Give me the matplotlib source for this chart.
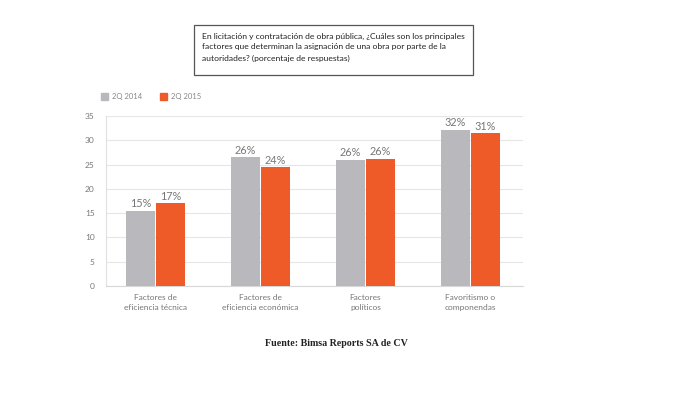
import matplotlib
matplotlib.use("Agg")
import matplotlib.pyplot as plt
from matplotlib.patches import Rectangle
import numpy as np

categorias = ["Factores de\neficiencia técnica", "Factores de\neficiencia económica",
              "Factores\npolíticos", "Favoritismo o\ncomponendas"]
valores_2014 = [15.5, 26.5, 26.0, 32.2]
valores_2015 = [17.0, 24.5, 26.2, 31.5]
etiquetas_2014 = ["15%", "26%", "26%", "32%"]
etiquetas_2015 = ["17%", "24%", "26%", "31%"]
series = ["2Q 2014", "2Q 2015"]

gris = "#b9b9bd"
naranja = "#ee5a28"

plt.rcParams["font.family"] = ["Lato", "DejaVu Sans"]

fig = plt.figure(figsize=(7, 3.95), dpi=100)
W, H = 700, 395
ax = fig.add_axes([106 / W, 1 - 286 / H, (523 - 106) / W, (286 - 116) / H])

x = np.arange(len(categorias))
ancho = 0.276
b1 = ax.bar(x - ancho / 2 - 0.005, valores_2014, ancho, color=gris, zorder=3)
b2 = ax.bar(x + ancho / 2 + 0.005, valores_2015, ancho, color=naranja, zorder=3)

for barras, etiquetas in [(b1, etiquetas_2014), (b2, etiquetas_2015)]:
    for b, et in zip(barras, etiquetas):
        ax.text(b.get_x() + b.get_width() / 2, b.get_height() + 0.3, et,
                ha="center", va="bottom", fontsize=7.8, color="#777777")

ax.set_xlim(-0.47, 3.5)
ax.set_ylim(0, 35)
ax.set_yticks(range(0, 36, 5))
ax.grid(axis="y", color="#e6e6e6", lw=0.8, zorder=0)
ax.set_xticks(x)
ax.set_xticklabels(categorias, fontsize=5.5, color="#777777", linespacing=1.5)
ax.tick_params(axis="both", length=0, labelsize=6, colors="#777777")
ax.tick_params(axis="y", pad=8)
ax.tick_params(axis="x", pad=6)
for s in ["top", "right"]:
    ax.spines[s].set_visible(False)
ax.spines["left"].set_color("#e0e0e0")
ax.spines["bottom"].set_color("#d8d8d8")

# leyenda
for i, (nombre, c) in enumerate(zip(series, [gris, naranja])):
    x0 = 101 + i * 59
    fig.patches.append(Rectangle((x0 / W, 1 - 100 / H), 7 / W, 7 / H,
                                 transform=fig.transFigure, color=c))
    fig.text((x0 + 11) / W, 1 - 96.5 / H, nombre, fontsize=5.5,
             color="#888888", va="center")

# caja de título
fig.patches.append(Rectangle((194 / W, 1 - 75 / H), (473 - 194) / W, 50 / H,
                             transform=fig.transFigure, fill=False,
                             edgecolor="#555555", lw=0.9))
fig.text(202 / W, 1 - 47 / H,
         "En licitación y contratación de obra pública, ¿Cuáles son los principales\n"
         "factores que determinan la asignación de una obra por parte de la\n"
         "autoridades? (porcentaje de respuestas)",
         fontsize=6.1, color="#222222", va="center", linespacing=1.65)

fig.text(336 / W, 1 - 343 / H, "Fuente: Bimsa Reports SA de CV",
         family="Liberation Serif", weight="bold", fontsize=7.2, ha="center",
         va="center", color="#222222")

fig.savefig("out.png", dpi=100, facecolor="white")
